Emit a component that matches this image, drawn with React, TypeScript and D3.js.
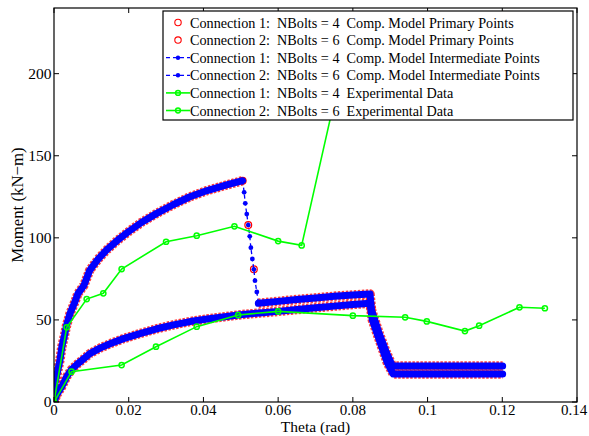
import React from "react";
import * as d3 from "d3";

const W = 589;
const H = 436;

const xTickValues = [0, 0.02, 0.04, 0.06, 0.08, 0.1, 0.12, 0.14];
const xTickLabels = ["0", "0.02", "0.04", "0.06", "0.08", "0.1", "0.12", "0.14"];
const yTickValues = [0, 50, 100, 150, 200];
const yTickLabels = ["0", "50", "100", "150", "200"];

// Connection 1 (NBolts = 4) computational model – dense sections
const c1ModelTheta = [0, 0.0007, 0.0021, 0.0034, 0.0047, 0.0062, 0.0078, 0.0096, 0.0123, 0.015, 0.0186, 0.023, 0.0275, 0.032, 0.0364, 0.041, 0.0452, 0.0493, 0.055, 0.06, 0.065, 0.07, 0.075, 0.08, 0.0846, 0.0852, 0.0872, 0.0892, 0.0908, 0.095, 0.1, 0.105, 0.11, 0.115, 0.1201];
const c1ModelMoment = [0, 4.3, 9.5, 15.4, 19.8, 23, 26, 29.5, 32.8, 35.5, 38.6, 41.7, 44.6, 47, 49, 50.6, 51.8, 53, 54.2, 55.2, 56.3, 57.4, 58.4, 59.4, 60.2, 50, 37, 24, 17, 17, 17, 17, 17, 17, 17];

// Connection 2 (NBolts = 6) computational model – loading branch
const c2LoadTheta = [0, 0.0002, 0.0009, 0.0016, 0.0021, 0.0028, 0.0034, 0.0043, 0.0056, 0.0064, 0.008, 0.0096, 0.0118, 0.0141, 0.017, 0.0199, 0.0235, 0.0275, 0.032, 0.0364, 0.041, 0.0462, 0.0505];
const c2LoadMoment = [0, 11, 18, 25.6, 33.7, 40.5, 47, 54, 61, 66, 71, 80.4, 87, 92.6, 98.5, 103.7, 109.5, 114.9, 120.3, 125, 128.8, 132.2, 134.8];
// Connection 2 – sudden drop (sparse points)
const c2DropTheta = [0.0505, 0.0509, 0.0512, 0.0516, 0.052, 0.0524, 0.0527, 0.0531, 0.0535, 0.0538, 0.0543, 0.0547];
const c2DropMoment = [134.8, 127.7, 121, 114.5, 107.8, 100.9, 94, 87.1, 80.8, 73.9, 67, 60.1];
const c2DropPrimaryTheta = [0.0505, 0.052, 0.0535];
const c2DropPrimaryMoment = [134.8, 107.8, 80.8];
// Connection 2 – reloading and residual branch
const c2ReloadTheta = [0.0547, 0.06, 0.065, 0.07, 0.075, 0.08, 0.0846, 0.085, 0.087, 0.089, 0.0906, 0.095, 0.1, 0.105, 0.11, 0.115, 0.1201];
const c2ReloadMoment = [60.1, 61.3, 62.4, 63.4, 64.4, 65.2, 65.8, 56, 42, 30, 21.9, 21.9, 21.9, 21.9, 21.9, 21.9, 21.9];

// Experimental data
const exp1Theta = [0, 0.0047, 0.0181, 0.0273, 0.0382, 0.0493, 0.06, 0.08, 0.094, 0.0998, 0.11, 0.1138, 0.1246, 0.1314];
const exp1Moment = [0, 18.5, 22.5, 33.7, 45.9, 53, 55.2, 52.6, 51.6, 49.1, 43.2, 46.5, 57.7, 57.1];
const exp2Theta = [0, 0.0034, 0.00875, 0.0132, 0.0181, 0.03, 0.0382, 0.0483, 0.06, 0.0663, 0.08];
const exp2Moment = [0, 45.5, 62.7, 66.2, 81, 97.6, 101.3, 107, 98, 95.4, 233.5];

const legendLabels = [
  "Connection 1:  NBolts = 4  Comp. Model Primary Points",
  "Connection 2:  NBolts = 6  Comp. Model Primary Points",
  "Connection 1:  NBolts = 4  Comp. Model Intermediate Points",
  "Connection 2:  NBolts = 6  Comp. Model Intermediate Points",
  "Connection 1:  NBolts = 4  Experimental Data",
  "Connection 2:  NBolts = 6  Experimental Data",
];
const legendKinds = ["primary", "primary", "intermediate", "intermediate", "experimental", "experimental"];

const FONT = "'Liberation Serif', 'Times New Roman', serif";
const RED = "#ff0000";
const BLUE = "#0000ff";
const GREEN = "#00ff00";

type P = [number, number];
const zip = (a: number[], b: number[]): P[] => a.map((v, i) => [v, b[i]]);

export default function App() {
  const left = 54, right = 577, top = 8, bottom = 402;
  const x = d3.scaleLinear().domain([0, 0.14]).range([left, right]);
  const y = d3.scaleLinear().domain([0, 240]).range([bottom, top]);
  const line = d3.line<P>().x((d) => x(d[0])).y((d) => y(d[1]));

  const denseSets = [zip(c1ModelTheta, c1ModelMoment), zip(c2LoadTheta, c2LoadMoment), zip(c2ReloadTheta, c2ReloadMoment)];
  const drop = zip(c2DropTheta, c2DropMoment);
  const dropPrimary = zip(c2DropPrimaryTheta, c2DropPrimaryMoment);
  const exps = [zip(exp1Theta, exp1Moment), zip(exp2Theta, exp2Moment)];

  const legX = 163, legY = 11, legW = 410, legH = 109, rowY0 = 22.5, rowStep = 17.6;

  return (
    <svg width={W} height={H} style={{ position: "absolute", left: 0, top: 0, background: "#fff", fontFamily: FONT }}>
      <defs>
        <clipPath id="plotClip">
          <rect x={left} y={top} width={right - left} height={bottom - top} />
        </clipPath>
      </defs>
      <rect x={0} y={0} width={W} height={H} fill="#fff" />
      <g clipPath="url(#plotClip)">
        {/* primary points (red) */}
        {denseSets.map((d, i) => (
          <path key={"r" + i} d={line(d) || ""} fill="none" stroke={RED} strokeOpacity={0.75} strokeWidth={9.5} strokeDasharray="2.5 1.5" strokeLinejoin="round" />
        ))}
        {dropPrimary.map((d, i) => (
          <circle key={"rp" + i} cx={x(d[0])} cy={y(d[1])} r={3.4} fill="none" stroke={RED} strokeWidth={1.2} />
        ))}
        {/* intermediate points (blue) */}
        {denseSets.map((d, i) => (
          <path key={"b" + i} d={line(d) || ""} fill="none" stroke={BLUE} strokeWidth={7} strokeLinejoin="round" strokeLinecap="round" />
        ))}
        <path d={line(drop) || ""} fill="none" stroke={BLUE} strokeWidth={1.3} strokeDasharray="4 3" />
        {drop.map((d, i) => (
          <circle key={"bd" + i} cx={x(d[0])} cy={y(d[1])} r={2.4} fill={BLUE} />
        ))}
        {/* experimental */}
        {exps.map((d, i) => (
          <g key={"e" + i}>
            <path d={line(d) || ""} fill="none" stroke={GREEN} strokeWidth={1.6} />
            {d.map((p, j) => (
              <circle key={j} cx={x(p[0])} cy={y(p[1])} r={2.6} fill="none" stroke={GREEN} strokeWidth={1.5} />
            ))}
          </g>
        ))}
      </g>

      {/* axes box */}
      <rect x={left} y={top} width={right - left} height={bottom - top} fill="none" stroke="#000" strokeWidth={1.2} />
      {xTickValues.map((v, i) => (
        <g key={"xt" + i}>
          <line x1={x(v)} x2={x(v)} y1={bottom} y2={bottom - 5} stroke="#000" />
          <line x1={x(v)} x2={x(v)} y1={top} y2={top + 5} stroke="#000" />
          <text x={Math.min(x(v), W - 15)} y={415} textAnchor="middle" fontFamily={FONT} fontSize={15}>{xTickLabels[i]}</text>
        </g>
      ))}
      {yTickValues.map((v, i) => (
        <g key={"yt" + i}>
          <line x1={left} x2={left + 5} y1={y(v)} y2={y(v)} stroke="#000" />
          <line x1={right} x2={right - 5} y1={y(v)} y2={y(v)} stroke="#000" />
          <text x={51.5} y={y(v) + 5.2} textAnchor="end" fontFamily={FONT} fontSize={15.5}>{yTickLabels[i]}</text>
        </g>
      ))}
      <text x={(left + right) / 2} y={432.3} textAnchor="middle" fontFamily={FONT} fontSize={15.5}>Theta (rad)</text>
      <text transform={`translate(23,${(top + bottom) / 2}) rotate(-90)`} textAnchor="middle" fontFamily={FONT} fontSize={16.8}>Moment (kN−m)</text>

      {/* legend */}
      <rect x={legX} y={legY} width={legW} height={legH} fill="#fff" stroke="#000" strokeWidth={1.2} />
      {legendLabels.map((lab, i) => {
        const cy = rowY0 + i * rowStep;
        const kind = legendKinds[i];
        return (
          <g key={"lg" + i}>
            {kind === "primary" && <circle cx={178} cy={cy} r={3.2} fill="none" stroke={RED} strokeWidth={1.1} />}
            {kind === "intermediate" && (
              <g>
                <line x1={166} x2={190} y1={cy} y2={cy} stroke={BLUE} strokeWidth={1.3} strokeDasharray="4 3" />
                <circle cx={178} cy={cy} r={2.2} fill={BLUE} />
              </g>
            )}
            {kind === "experimental" && (
              <g>
                <line x1={166} x2={190} y1={cy} y2={cy} stroke={GREEN} strokeWidth={1.6} />
                <circle cx={178} cy={cy} r={2.4} fill="none" stroke={GREEN} strokeWidth={1.5} />
              </g>
            )}
            <text x={190} y={cy + 5} fontFamily={FONT} fontSize={14.2} style={{ whiteSpace: "pre" }}>{lab}</text>
          </g>
        );
      })}
    </svg>
  );
}
